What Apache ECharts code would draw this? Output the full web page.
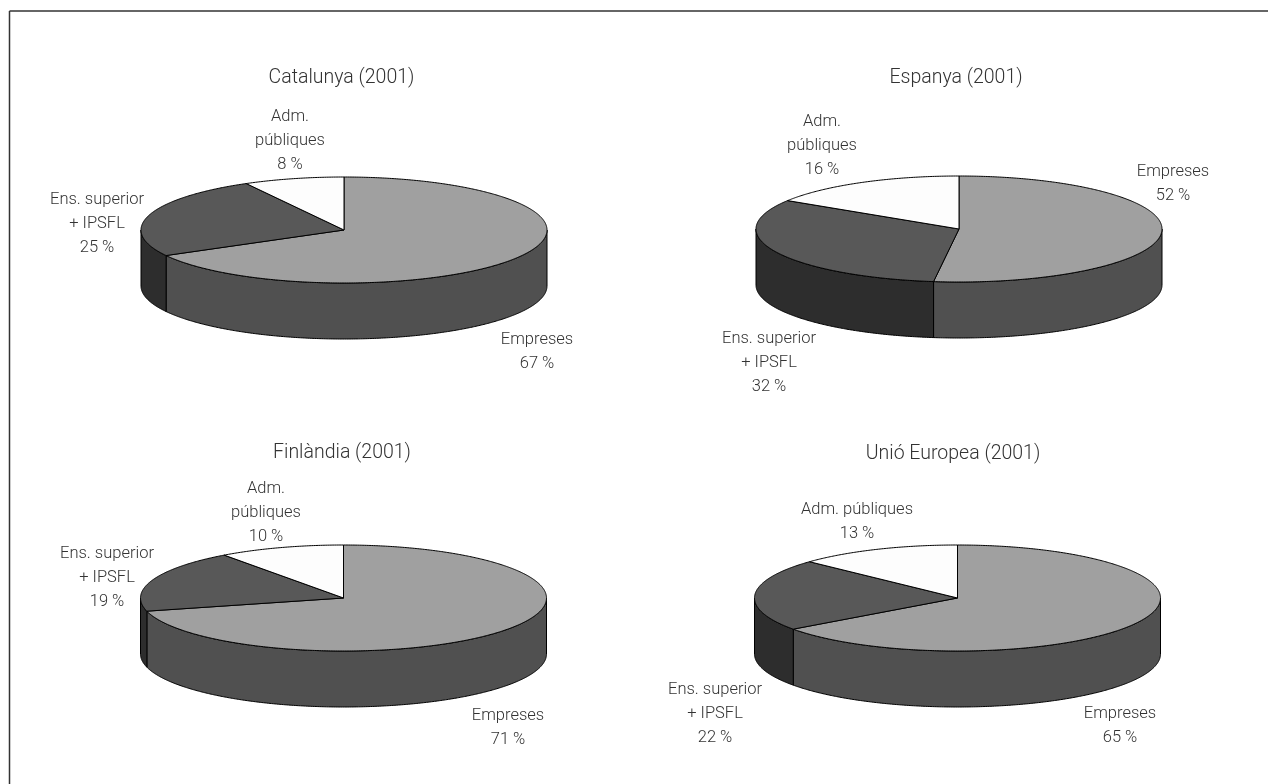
<!DOCTYPE html>
<html><head><meta charset="utf-8">
<style>html,body{margin:0;padding:0;background:#fff}#c{width:1268px;height:784px}</style>
<script src="https://cdn.jsdelivr.net/npm/echarts@6/dist/echarts.min.js"></script>
</head><body><div id="c"></div>
<script>
const categories = ['Empreses', 'Ens. superior + IPSFL', 'Adm. públiques'];
const panelTitles = ['Catalunya (2001)', 'Espanya (2001)', 'Finlàndia (2001)', 'Unió Europea (2001)'];
const catalunya = [67, 25, 8];
const espanya = [52, 32, 16];
const finlandia = [71, 19, 10];
const unioEuropea = [65, 22, 13];
const panelValues = [catalunya, espanya, finlandia, unioEuropea];

// layout only
const centers = [[344, 230], [959, 229], [343.5, 598], [957.5, 598]];
const titlePos = [[341.5, 78], [956, 78], [342, 453], [953, 454]];
const RX = 203, RY = 53, DEPTH = 56;
const topColors = ['#a0a0a0', '#585858', '#fdfdfd'];
const wallColors = ['#505050', '#2d2d2d', '#808080'];
// label line breaks and anchor (centre x, first line y) per panel and category
const labelLines = [
  [['Empreses'], ['Ens. superior', '+ IPSFL'], ['Adm.', 'públiques']],
  [['Empreses'], ['Ens. superior', '+ IPSFL'], ['Adm.', 'públiques']],
  [['Empreses'], ['Ens. superior', '+ IPSFL'], ['Adm.', 'públiques']],
  [['Empreses'], ['Ens. superior', '+ IPSFL'], ['Adm. públiques']]
];
const labelAnchors = [
  [[537, 339.5], [97, 199.5], [290, 116.5]],
  [[1173, 171.5], [769, 338.5], [822, 121.5]],
  [[508, 715.5], [107, 553.5], [266, 488.5]],
  [[1120, 713.5], [715, 689.5], [857, 509.5]]
];
const LINE_H = 24.3;
const FONT = {fontFamily: 'Roboto', fontWeight: 300, fontSize: 16.5, fill: '#333'};

function pt(c, deg, dy) {
  const t = deg * Math.PI / 180;
  return [c[0] + RX * Math.sin(t), c[1] - RY * Math.cos(t) + (dy || 0)];
}
function arc(c, a, b, dy) {
  const pts = [], n = Math.max(2, Math.ceil(Math.abs(b - a) * 2));
  for (let i = 0; i <= n; i++) pts.push(pt(c, a + (b - a) * i / n, dy));
  return pts;
}
function makeSeries(p) {
  const vals = panelValues[p], c = centers[p];
  const total = vals.reduce((s, v) => s + v, 0);
  return {
    type: 'custom', coordinateSystem: 'none', silent: true, clip: false,
    data: vals.map((v, i) => ({value: v, name: categories[i]})),
    renderItem(params, api) {
      const i = params.dataIndex, v = api.value(0);
      let before = 0;
      for (let k = 0; k < i; k++) before += vals[k];
      const a = before / total * 360, b = (before + v) / total * 360;
      const children = [];
      const w1 = Math.max(a, 90), w2 = Math.min(b, 270);
      if (w2 > w1) {
        const pts = arc(c, w1, w2, 0).concat(arc(c, w2, w1, DEPTH));
        children.push({type: 'polygon', z2: 1, shape: {points: pts},
          style: {fill: wallColors[i], stroke: '#000', lineWidth: 1}});
      }
      children.push({type: 'polygon', z2: 2, shape: {points: [c].concat(arc(c, a, b, 0))},
        style: {fill: topColors[i], stroke: '#000', lineWidth: 1, lineJoin: 'round'}});
      const lines = labelLines[p][i].concat([v + ' %']);
      const an = labelAnchors[p][i];
      lines.forEach((t, k) => children.push({type: 'text', z2: 3,
        style: Object.assign({text: t, x: an[0], y: an[1] + k * LINE_H, align: 'center', verticalAlign: 'middle'}, FONT)}));
      return {type: 'group', children};
    }
  };
}
const chart = echarts.init(document.getElementById('c'), null, {renderer: 'canvas'});
chart.setOption({
  animation: false,
  backgroundColor: '#fff',
  title: panelTitles.map((t, i) => ({
    text: t, left: titlePos[i][0], top: titlePos[i][1], padding: 0, textAlign: 'center', textVerticalAlign: 'middle',
    textStyle: {fontFamily: 'Roboto', fontWeight: 300, fontSize: 19.5, color: '#333'}
  })),
  graphic: [
    {type: 'line', shape: {x1: 9.5, y1: 11, x2: 1268, y2: 11}, style: {stroke: '#333', lineWidth: 1.5}},
    {type: 'line', shape: {x1: 9.5, y1: 11, x2: 9.5, y2: 784}, style: {stroke: '#333', lineWidth: 1.5}}
  ],
  series: panelValues.map((_, p) => makeSeries(p))
});
</script></body></html>
